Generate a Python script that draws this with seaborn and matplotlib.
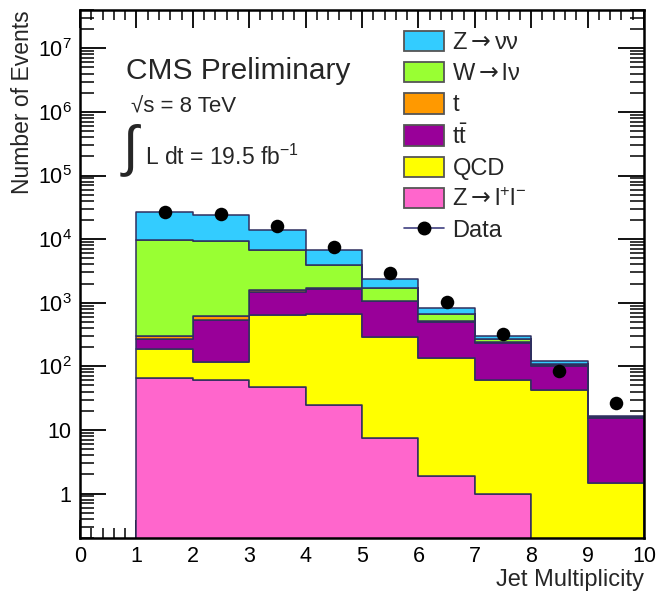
import numpy as np
import pandas as pd
import matplotlib
matplotlib.use("Agg")
import matplotlib.pyplot as plt
import matplotlib.ticker as mticker
from matplotlib.patches import Patch
from matplotlib.lines import Line2D
import seaborn as sns

# ---------------- data ----------------
bin_edges = [1, 2, 3, 4, 5, 6, 7, 8, 9, 10]
bin_centers = [1.5, 2.5, 3.5, 4.5, 5.5, 6.5, 7.5, 8.5, 9.5]

processes = ["Znn", "Wlnu", "t", "ttbar", "QCD", "Zll"]
znn   = [17400, 15100, 7300, 2690, 690, 179, 27, 11, 0.7]
wlnu  = [9300, 8590, 5190, 2270, 610, 143, 33, 5, 0.3]
top   = [35, 83, 115, 60, 20, 8, 3, 1, 0.3]
ttbar = [75, 415, 860, 1000, 758, 369, 174, 60, 14.1]
qcd   = [124, 54, 589, 628, 284, 131, 60, 43, 1.45]
zll   = [66, 62, 48, 25, 7.6, 1.9, 1.0, 0, 0]
data  = [26300, 25000, 15800, 7500, 2900, 1020, 317, 83, 26.8]

colors = ["#33CCFF", "#99FF33", "#FF9900", "#990099", "#FFFF00", "#FF66CC"]
ARW = r"$\mathsf{\rightarrow}$"
legend_labels = ["Z" + ARW + "νν", "W" + ARW + "lν", "t", r"t$\mathregular{\bar{t}}$", "QCD",
                 "Z" + ARW + r"l$\mathregular{^{+}}$l$\mathregular{^{-}}$"]
yticks = [1, 10, 1e2, 1e3, 1e4, 1e5, 1e6, 1e7]

# ---------------- styling ----------------
sns.set_style("ticks")
plt.rcParams["font.family"] = ["Liberation Sans", "DejaVu Sans"]
plt.rcParams["mathtext.fontset"] = "custom"
plt.rcParams["mathtext.rm"] = "Liberation Sans"
plt.rcParams["mathtext.it"] = "Liberation Sans:italic"
plt.rcParams["mathtext.bf"] = "Liberation Sans:bold"
plt.rcParams["mathtext.sf"] = "DejaVu Sans"

W, H = 657, 594
fig = plt.figure(figsize=(W / 100, H / 100), dpi=100)
ax = fig.add_axes([80 / W, (H - 538) / H, (644 - 80) / W, (538 - 10) / H])
ax.set_yscale("log")

series = [znn, wlnu, top, ttbar, qcd, zll]
rows = []
for name, vals in zip(processes, series):
    for c, v in zip(bin_centers, vals):
        rows.append({"njet": c, "w": v, "proc": name})
df = pd.DataFrame(rows)

sns.histplot(data=df, x="njet", weights="w", hue="proc", hue_order=processes,
             bins=bin_edges, multiple="stack", element="step", fill=True,
             palette=colors, alpha=1, edgecolor="#2f2f5f", linewidth=1.1,
             legend=False, ax=ax)

sns.scatterplot(x=bin_centers, y=data, color="black", s=95, edgecolor="black",
                linewidth=0, zorder=5, ax=ax)

ax.set_xlim(0, 10)
ax.set_ylim(0.2, 4e7)

# ticks ROOT-like
ax.set_yticks(yticks)
def yfmt(v, pos):
    e = int(round(np.log10(v)))
    if e >= 2:
        return r"$\mathregular{10^{%d}}$" % e
    return "%d" % round(v)
ax.yaxis.set_major_formatter(mticker.FuncFormatter(yfmt))
ax.yaxis.set_minor_locator(mticker.LogLocator(base=10, subs=np.arange(2, 10), numticks=40))
ax.yaxis.set_minor_formatter(mticker.NullFormatter())
ax.xaxis.set_major_locator(mticker.MultipleLocator(1))
ax.xaxis.set_minor_locator(mticker.MultipleLocator(0.2))

ax.tick_params(axis="both", which="both", direction="in", top=True, right=True,
               colors="black", labelsize=15.5)
ax.tick_params(axis="x", which="major", length=13, width=1.3, pad=6)
ax.tick_params(axis="x", which="minor", length=7, width=1.1)
ax.tick_params(axis="y", which="major", length=19, width=1.3, pad=6)
ax.tick_params(axis="y", which="minor", length=10, width=1.1)
for s in ax.spines.values():
    s.set_linewidth(1.8)
    s.set_color("black")

ax.set_xlabel("Jet Multiplicity", fontsize=17, loc="right")
ax.set_ylabel("Number of Events", fontsize=16.5, loc="top")
ax.xaxis.set_label_coords(1.0, -0.058)
ax.yaxis.set_label_coords(-0.082, 1.0)

# texts
fig.text(126 / W, 1 - 71 / H, "CMS Preliminary", fontsize=21.5, va="center", ha="left")
fig.text(131 / W, 1 - 107 / H, "√s = 8 TeV", fontsize=16,
         va="center", ha="left")
fig.text(123 / W, 1 - 150 / H, "∫", fontsize=40, va="center", ha="left")
fig.text(145 / W, 1 - 157 / H, r"L dt = 19.5 fb$\mathregular{^{-1}}$", fontsize=16.5,
         va="center", ha="left")

# legend
handles = [Patch(facecolor=c, edgecolor="#555555", linewidth=1.3) for c in colors]
handles.append(Line2D([], [], color="#404080", lw=1.2, marker="o", markersize=9,
                      markerfacecolor="black", markeredgecolor="black"))
labels = legend_labels + ["Data"]
ax.legend(handles, labels, loc="upper left",
          bbox_to_anchor=(404 / W, 1 - 31 / H), bbox_transform=fig.transFigure,
          frameon=False, fontsize=17, handlelength=1.7, handleheight=0.95,
          labelspacing=0.33, handletextpad=0.35, borderpad=0, borderaxespad=0)

fig.savefig("out.png", dpi=100)
